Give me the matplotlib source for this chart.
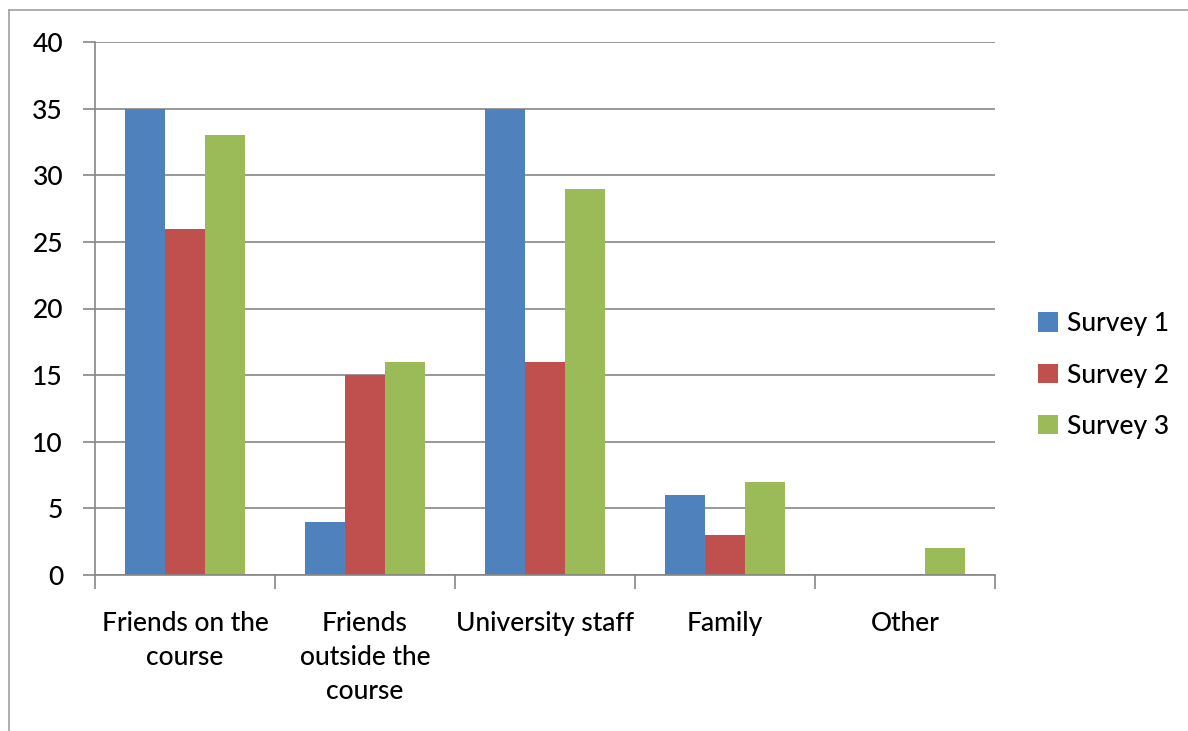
import numpy as np
import matplotlib.pyplot as plt
from matplotlib.lines import Line2D

categories = ["Friends on the\ncourse", "Friends\noutside the\ncourse",
              "University staff", "Family", "Other"]
survey_1 = [35, 4, 35, 6, 0]
survey_2 = [26, 15, 16, 3, 0]
survey_3 = [33, 16, 29, 7, 2]
series_names = ["Survey 1", "Survey 2", "Survey 3"]
y_ticks = [0, 5, 10, 15, 20, 25, 30, 35, 40]

colors = ["#4F81BD", "#C0504D", "#9BBB59"]
grid_col = "#868686"

plt.rcParams['font.family'] = ['Lato', 'DejaVu Sans']
plt.rcParams['font.weight'] = 'medium'

fig = plt.figure(figsize=(11.88, 7.31), dpi=100)
ax = fig.add_axes([95 / 1188, 1 - 575 / 731, 900 / 1188, 533 / 731])

x = np.arange(len(categories))
w = 0.222
for i, (vals, name) in enumerate(zip([survey_1, survey_2, survey_3], series_names)):
    ax.bar(x + (i - 1) * w, vals, width=w, color=colors[i], label=name, zorder=3)

ax.set_xlim(-0.5, len(categories) - 0.5)
ax.set_ylim(0, 40)
ax.set_yticks(y_ticks)
ax.yaxis.grid(True, color=grid_col, linewidth=1.2, zorder=0)

# category labels at centres, tick marks at the boundaries
ax.set_xticks(x)
ax.set_xticklabels(categories, fontsize=19, linespacing=1.45, va='top')
ax.set_xticks(np.arange(-0.5, len(categories)), minor=True)
ax.tick_params(axis='x', which='major', length=0, pad=26)
ax.tick_params(axis='x', which='minor', length=10, width=1.2, color=grid_col, direction='out')
ax.tick_params(axis='y', length=9, width=1.2, color=grid_col, labelsize=19, pad=14)

for s in ['top', 'right']:
    ax.spines[s].set_visible(False)
for s in ['left', 'bottom']:
    ax.spines[s].set_color(grid_col)
    ax.spines[s].set_linewidth(1.2)
    ax.spines[s].set_zorder(4)

ax.legend(loc='center left', bbox_to_anchor=(1.048, 0.375), frameon=False,
          fontsize=19, handlelength=0.75, handleheight=0.75, handletextpad=0.35,
          labelspacing=1.0, borderpad=0, borderaxespad=0)

# chart frame on the left and top edges
fig.add_artist(Line2D([8.5 / 1188, 8.5 / 1188], [0, 1 - 10 / 731],
                      transform=fig.transFigure, color="#A0A0A0", linewidth=1.2))
fig.add_artist(Line2D([8.5 / 1188, 1], [1 - 10 / 731, 1 - 10 / 731],
                      transform=fig.transFigure, color="#A0A0A0", linewidth=1.2))

fig.savefig("out.png", dpi=100)
